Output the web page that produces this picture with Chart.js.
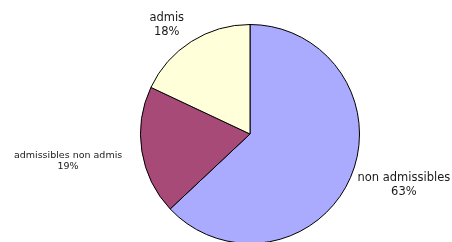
<!DOCTYPE html>
<html><head><meta charset="utf-8">
<script src="https://cdn.jsdelivr.net/npm/chart.js@4/dist/chart.umd.min.js"></script>
<style>html,body{margin:0;padding:0;background:#fff;overflow:hidden;width:452px;height:242px}#wrap{width:452px;height:250px}</style>
</head><body>
<div id="wrap"><canvas id="c" width="452" height="250"></canvas></div>
<script>
const categories = ["non admissibles", "admissibles non admis", "admis"];
const percentages = [63, 19, 18];
const sliceColors = ["#AAAAFF", "#A84A78", "#FFFFD9"];

// label style per slice: font size, line height and small nudge from geometric anchor
const labelFont = [11.5, 9.5, 11.5];
const labelLine = [13.8, 10.6, 13.8];
const labelNudge = [[1.5, 0], [-13.7, 7.3], [-4, 0]];

const labelPlugin = {
  id: 'sliceLabels',
  afterDraw(chart) {
    const ctx = chart.ctx;
    const meta = chart.getDatasetMeta(0);
    meta.data.forEach((arc, i) => {
      const p = arc.getProps(['x', 'y', 'startAngle', 'endAngle', 'outerRadius'], true);
      const mid = (p.startAngle + p.endAngle) / 2;
      const cos = Math.cos(mid), sin = Math.sin(mid);
      const ax = p.x + (p.outerRadius + 6) * cos + labelNudge[i][0];
      const ay = p.y + (p.outerRadius + 6) * sin + labelNudge[i][1];
      const fs = labelFont[i];
      ctx.save();
      ctx.font = fs + 'px "DejaVu Sans", Verdana, sans-serif';
      ctx.fillStyle = '#1a1a1a';
      const lines = [categories[i], percentages[i] + '%'];
      const lh = labelLine[i];
      const w = Math.max(...lines.map(l => ctx.measureText(l).width));
      const h = lh * lines.length;
      const left = cos >= 0 ? ax : ax - w;
      const top = ay - h / 2 + sin * h / 2;
      ctx.textAlign = 'center';
      ctx.textBaseline = 'middle';
      lines.forEach((l, k) => ctx.fillText(l, left + w / 2, top + lh * (k + 0.5)));
      ctx.restore();
    });
  }
};

new Chart(document.getElementById('c'), {
  type: 'pie',
  data: {
    labels: categories,
    datasets: [{
      data: percentages,
      backgroundColor: sliceColors,
      borderColor: '#000000',
      borderWidth: 1
    }]
  },
  options: {
    responsive: false,
    animation: false,
    layout: { padding: { left: 140, right: 92, top: 24, bottom: 6 } },
    plugins: { legend: { display: false }, tooltip: { enabled: false } }
  },
  plugins: [labelPlugin]
});
</script>
</body></html>
